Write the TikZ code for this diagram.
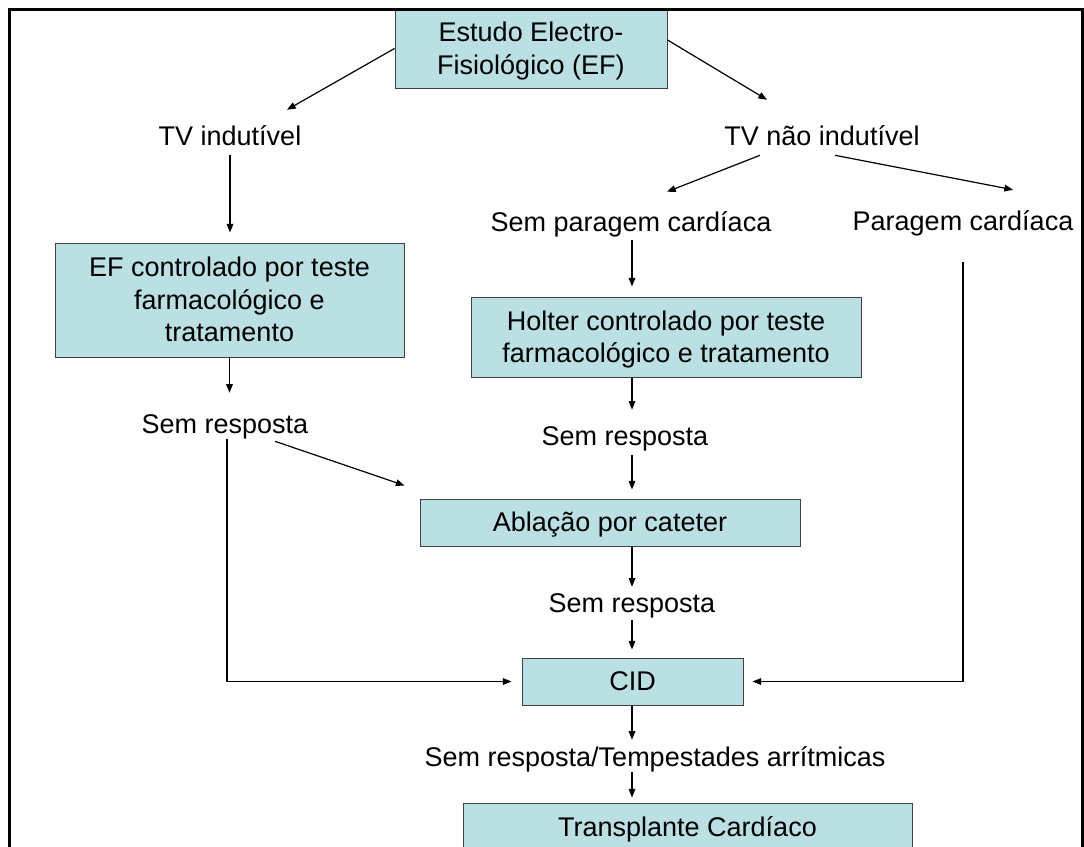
\documentclass[tikz,border=0pt]{standalone}
\usepackage{fontspec}
\setmainfont{Liberation Sans}
\usetikzlibrary{arrows.meta}
\definecolor{boxfill}{RGB}{187,224,227}
\definecolor{boxline}{RGB}{64,64,64}
\newcommand{\linestrut}{\rule[-4.3pt]{0pt}{22.6pt}}
\begin{document}
\begin{tikzpicture}[x=0.75pt,y=-0.75pt,
		font=\fontsize{20.25pt}{24.3pt}\selectfont,
		box/.style={draw=boxline,line width=0.75pt,fill=boxfill,inner sep=0pt,align=center},
		lbl/.style={inner sep=0pt,anchor=base,text height=18.3pt,text depth=4.3pt},
		arr/.style={-{Triangle[length=6.5pt,width=5pt]},line width=0.9pt}]
		\useasboundingbox (0,0) rectangle (1084,846);
		\clip (0,0) rectangle (1084,846);
		% boxes
		\node[box,minimum width=204pt,minimum height=59.25pt] (ef) at (531,48.5) {\linestrut Estudo Electro-\\Fisiológico (EF)\linestrut};
		\node[box,minimum width=261.75pt,minimum height=85.5pt] (efc) at (229.5,300) {\linestrut EF controlado por teste\\farmacológico e\\tratamento\linestrut};
		\node[box,minimum width=292.5pt,minimum height=60pt] (holter) at (666,337) {\linestrut Holter controlado por teste\\farmacológico e tratamento\linestrut};
		\node[box,minimum width=285pt,minimum height=35.25pt] (ablacao) at (610,522.5) {\linestrut Ablação por cateter};
		\node[box,minimum width=165.75pt,minimum height=35.25pt] (cid) at (632.5,681.5) {\linestrut CID};
		\node[box,minimum width=336.75pt,minimum height=36pt] (transplante) at (687.5,827) {\linestrut Transplante Cardíaco};
		% labels
		\node[lbl] (tvi) at (230,145) {TV indutível};
		\node[lbl] (tvn) at (822,145) {TV não indutível};
		\node[lbl] (spc) at (631,231) {Sem paragem cardíaca};
		\node[lbl] (pc) at (963,230) {Paragem cardíaca};
		\node[lbl] (sr1) at (225,433) {Sem resposta};
		\node[lbl] (sr2) at (625,445) {Sem resposta};
		\node[lbl] (sr3) at (632,612) {Sem resposta};
		\node[lbl] (sr4) at (655,766) {Sem resposta/Tempestades arrítmicas};
		\coordinate (axis) at (632,0);
		% connectors
		\draw[arr] (ef.west) -- ([shift={(57,-10.6)}]tvi.north);
		\draw[arr] ([shift={(0,-8.5)}]ef.east) -- ([shift={(-55,-20.6)}]tvn.north);
		\draw[arr,shorten <=3.2pt,shorten >=7.5pt] (tvi.south) -- (tvi.south |- efc.north);
		\draw[arr] ([shift={(-62,4.3)}]tvn.south) -- ([shift={(36,-14.6)}]spc.north);
		\draw[arr] ([shift={(13,4.3)}]tvn.south) -- ([shift={(50,-15.6)}]pc.north);
		\draw[arr,shorten >=11.7pt] (efc.south) -- (efc.south |- sr1.north);
		\foreach \a/\b/\s/\e in {spc.south/holter.north/2.5/7.5, holter.south/sr2.north/0/8,
			sr2.south/ablacao.north/3.2/6.75, ablacao.south/sr3.north/0/0.4,
			sr3.south/cid.north/1.7/6, cid.south/sr4.north/0/1.2, sr4.south/transplante.north/0/3.75}
		{
			\draw[arr,shorten <=\s pt,shorten >=\e pt] (axis |- \a) -- (axis |- \b);
		}
		\draw[arr] ([shift={(50,2.3)}]sr1.south) -- ([shift={(-15,-13)}]ablacao.north west);
		\draw[arr,shorten >=7.5pt] ([xshift=1.5pt]sr1.south) |- (cid.west);
		\draw[arr,shorten <=19.5pt,shorten >=6.75pt] (pc.south) |- (cid.east);
		% frame
		\draw[line width=2.25pt] (9,900) -- (9,9) -- (1082,9) -- (1082,900);
\end{tikzpicture}
\end{document}
